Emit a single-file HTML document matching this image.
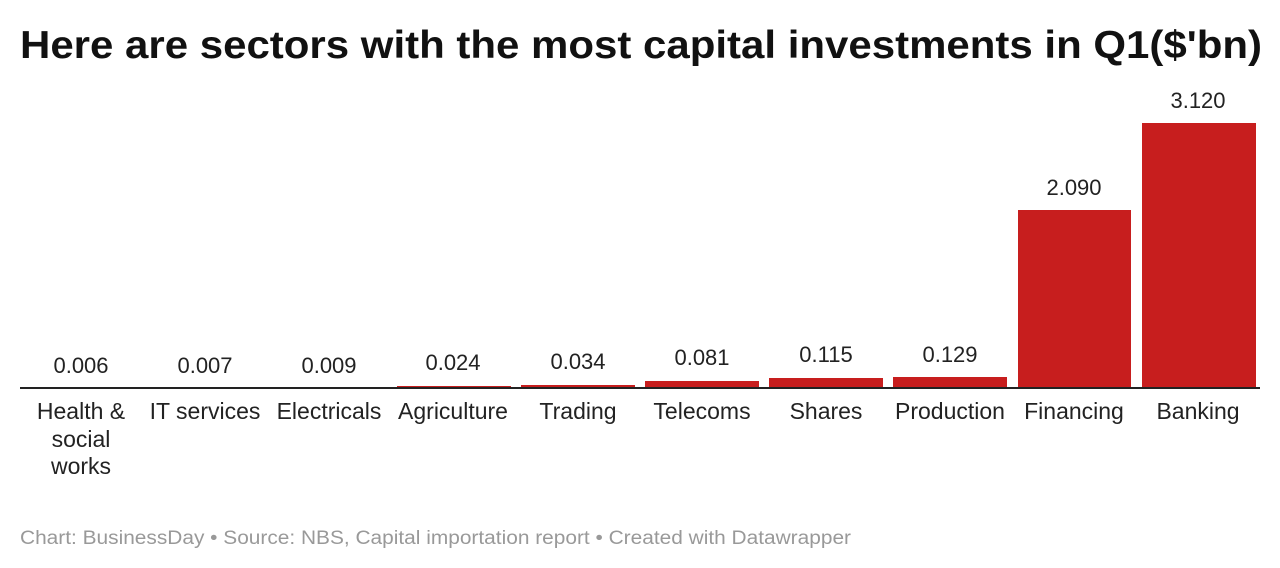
<!DOCTYPE html>
<html><head><meta charset="utf-8"><style>
html,body{margin:0;padding:0;background:#fff;width:1280px;height:568px;overflow:hidden}
svg{display:block}
text{font-family:"Liberation Sans",Arial,sans-serif}
</style></head><body>
<svg width="1280" height="568" viewBox="0 0 1280 568" xmlns="http://www.w3.org/2000/svg">
<text x="20" y="58" font-size="39" font-weight="bold" fill="#111" textLength="1242" lengthAdjust="spacingAndGlyphs">Here are sectors with the most capital investments in Q1($'bn)</text>
<g fill="#c71e1e">
<rect x="20" y="387.5" width="114" height="0.5"/>
<rect x="144" y="387.4" width="114" height="0.6"/>
<rect x="268" y="387.2" width="114" height="0.8"/>
<rect x="397" y="386" width="114" height="2"/>
<rect x="521" y="385" width="114" height="3"/>
<rect x="645" y="381" width="114" height="7"/>
<rect x="769" y="378" width="114" height="10"/>
<rect x="893" y="377" width="114" height="11"/>
<rect x="1018" y="210" width="113" height="178"/>
<rect x="1142" y="123" width="114" height="265"/>
</g>
<rect x="20" y="387" width="1240" height="2" fill="#222"/>
<g font-size="22" fill="#222" text-anchor="middle">
<text x="81" y="373">0.006</text>
<text x="205" y="373">0.007</text>
<text x="329" y="373">0.009</text>
<text x="453" y="370">0.024</text>
<text x="578" y="369">0.034</text>
<text x="702" y="365">0.081</text>
<text x="826" y="362">0.115</text>
<text x="950" y="362">0.129</text>
<text x="1074" y="195">2.090</text>
<text x="1198" y="108">3.120</text>
</g>
<g font-size="23" fill="#222" text-anchor="middle">
<text x="81" y="419">Health &amp;</text>
<text x="81" y="447">social</text>
<text x="81" y="474">works</text>
<text x="205" y="419">IT services</text>
<text x="329" y="419">Electricals</text>
<text x="453" y="419">Agriculture</text>
<text x="578" y="419">Trading</text>
<text x="702" y="419">Telecoms</text>
<text x="826" y="419">Shares</text>
<text x="950" y="419">Production</text>
<text x="1074" y="419">Financing</text>
<text x="1198" y="419">Banking</text>
</g>
<text x="20" y="544" font-size="19" fill="#999" textLength="831" lengthAdjust="spacingAndGlyphs">Chart: BusinessDay • Source: NBS, Capital importation report • Created with Datawrapper</text>
</svg>
</body></html>
